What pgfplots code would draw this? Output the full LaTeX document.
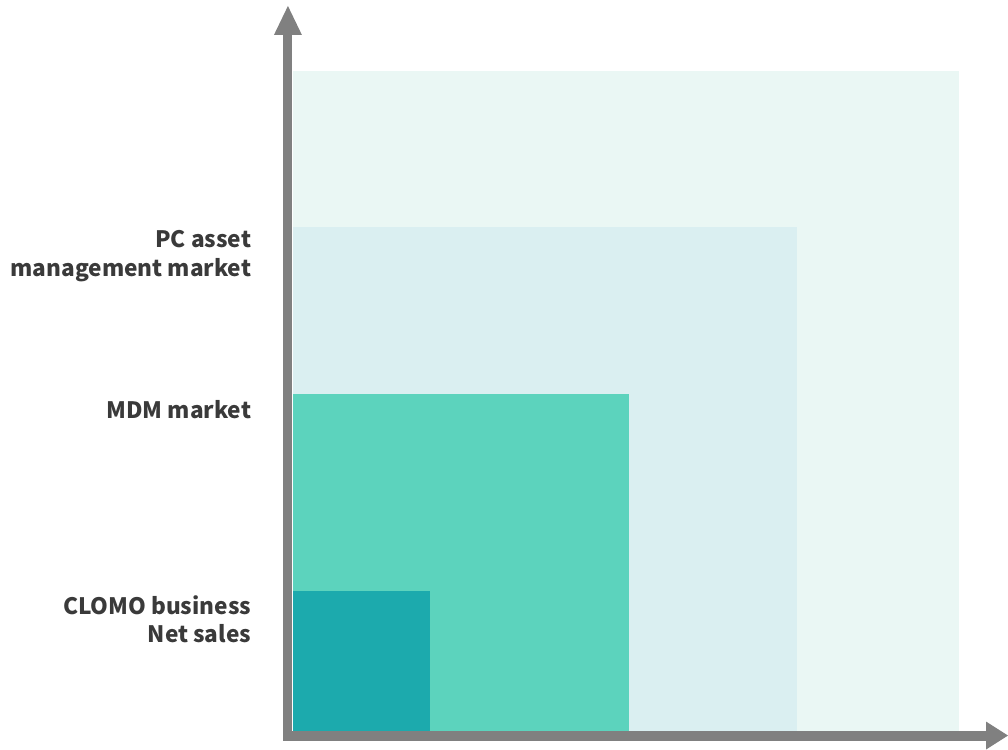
\documentclass[border=0pt]{standalone}
\usepackage{pgfplots}
\pgfplotsset{compat=1.18}
\usepackage{fontspec}
\setmainfont{Noto Sans CJK JP}
\definecolor{cLight}{RGB}{234,247,244}
\definecolor{cBlue}{RGB}{218,239,241}
\definecolor{cMid}{RGB}{92,211,189}
\definecolor{cDark}{RGB}{28,170,173}
\definecolor{axisgray}{RGB}{128,128,128}
\definecolor{txt}{RGB}{58,58,58}
\begin{document}
\begin{tikzpicture}
\begin{axis}[
  hide axis, clip=false,
  x=0.75pt, y=0.75pt,
  xmin=-294, xmax=714, ymin=-15, ymax=732,
]
\path (axis cs:-294,-15) rectangle (axis cs:714,732);
% nested areas (widths/heights in px-units)
\addplot[fill=cLight, draw=none] coordinates {(0,0) (0,661) (667,661) (667,0)} -- cycle;
\addplot[fill=cBlue, draw=none] coordinates {(0,0) (0,505) (505,505) (505,0)} -- cycle;
\addplot[fill=cMid, draw=none] coordinates {(0,0) (0,337) (336,337) (336,0)} -- cycle;
\addplot[fill=cDark, draw=none] coordinates {(0,0) (0,140) (137,140) (137,0)} -- cycle;
% axes with arrows
\fill[axisgray] (axis cs:-10,-10) rectangle (axis cs:-1,698);
\fill[axisgray] (axis cs:-19.5,697) -- (axis cs:8.5,697) -- (axis cs:-5.5,726) -- cycle;
\fill[axisgray] (axis cs:-10,-10) rectangle (axis cs:695,0);
\fill[axisgray] (axis cs:694,9) -- (axis cs:694,-19) -- (axis cs:716,-5) -- cycle;
% labels
\begin{scope}[every node/.style={anchor=east, align=right, text=txt, font=\fontsize{17}{21.75}\selectfont\bfseries, inner sep=0pt}]
\node at (axis cs:-42,475.5) {PC asset\\management market};
\node at (axis cs:-42,322) {MDM market};
\node at (axis cs:-42,111.5) {CLOMO business\\Net sales};
\end{scope}
\end{axis}
\end{tikzpicture}
\end{document}
